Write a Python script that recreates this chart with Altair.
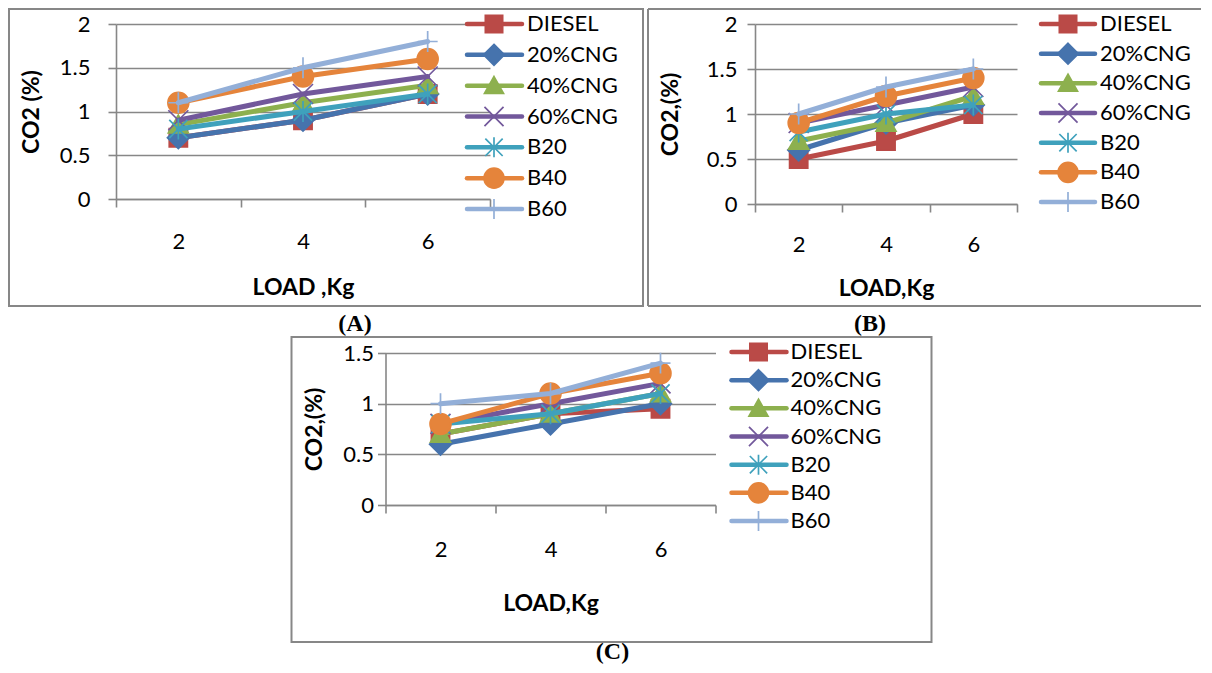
import altair as alt
import pandas as pd

LOADS = ["2", "4", "6"]
SERIES = ["DIESEL", "20%CNG", "40%CNG", "60%CNG", "B20", "B40", "B60"]
COLORS = ["#BA4A47", "#4673AD", "#8DB04E", "#72589B", "#3FA1BC", "#E5843B", "#93AFD8"]

# CO2 (%) per series at loads 2, 4, 6 kg
PANEL_A = {
    "DIESEL": [0.7, 0.9, 1.2],
    "20%CNG": [0.7, 0.9, 1.2],
    "40%CNG": [0.85, 1.1, 1.3],
    "60%CNG": [0.9, 1.2, 1.4],
    "B20": [0.8, 1.0, 1.2],
    "B40": [1.1, 1.4, 1.6],
    "B60": [1.1, 1.5, 1.8],
}
PANEL_B = {
    "DIESEL": [0.5, 0.7, 1.0],
    "20%CNG": [0.6, 0.9, 1.1],
    "40%CNG": [0.7, 0.9, 1.2],
    "60%CNG": [0.9, 1.1, 1.3],
    "B20": [0.8, 1.0, 1.1],
    "B40": [0.9, 1.2, 1.4],
    "B60": [1.0, 1.3, 1.5],
}
PANEL_C = {
    "DIESEL": [0.7, 0.9, 0.95],
    "20%CNG": [0.6, 0.8, 1.0],
    "40%CNG": [0.7, 0.9, 1.1],
    "60%CNG": [0.8, 1.0, 1.2],
    "B20": [0.8, 0.9, 1.1],
    "B40": [0.8, 1.1, 1.3],
    "B60": [1.0, 1.1, 1.4],
}

SHAPES = [
    "M-1,-1H1V1H-1Z",                                   # square
    "M0,-1.2L1.2,0L0,1.2L-1.2,0Z",                      # diamond
    "M0,-1.05L1.1,0.9H-1.1Z",                           # triangle
    "M-1.1,-1.1L1.1,1.1M1.1,-1.1L-1.1,1.1",             # x
    "M-1,-1L1,1M1,-1L-1,1M0,-1.15V1.15",                # star
    "M1.15,0A1.15,1.15,0,1,1,-1.15,0A1.15,1.15,0,1,1,1.15,0Z",  # circle
    "M-1.1,0H1.1M0,-1.15V1.15",                         # plus
]

GRAY = "#878787"
FONT = "Lato"

color_scale = alt.Scale(domain=SERIES, range=COLORS)
shape_scale = alt.Scale(domain=SERIES, range=SHAPES)
one = pd.DataFrame({"k": [0]})


def panel(values, w, h, ymax, yvals, xtitle, ytitle, xtitle_y, ytitle_x,
          xlab_pad, ylab_pad, frame, leg, caption, cap_pos, open_right=False):
    rows = []
    for s in SERIES:
        for l, v in zip(LOADS, values[s]):
            rows.append({"load": l, "co2": v, "series": s})
    df = pd.DataFrame(rows)

    x = alt.X(
        "load:O", sort=LOADS, bandPosition=0.5,
        scale=alt.Scale(type="band", domain=LOADS, paddingInner=0, paddingOuter=0),
        axis=alt.Axis(
            title=xtitle, titleFont=FONT, titleFontSize=23, titleFontWeight="bold",
            titleColor="black", titleY=xtitle_y, titleBaseline="middle",
            labelFont=FONT, labelFontSize=22, labelColor="black", labelAngle=0,
            labelPadding=xlab_pad, labelBaseline="middle",
            tickBand="extent", tickSize=8, tickColor=GRAY, tickWidth=1.6,
            domainColor=GRAY, domainWidth=1.6, grid=False,
        ),
    )
    y = alt.Y(
        "co2:Q",
        scale=alt.Scale(domain=[0, ymax], nice=False, zero=True),
        axis=alt.Axis(
            title=ytitle, titleFont=FONT, titleFontSize=23, titleFontWeight="bold",
            titleColor="black", titleX=ytitle_x, titleBaseline="middle",
            values=yvals, format="~g",
            labelFont=FONT, labelFontSize=22, labelColor="black",
            labelPadding=ylab_pad,
            tickSize=8, tickColor=GRAY, tickWidth=1.6,
            domainColor=GRAY, domainWidth=1.6,
            grid=True, gridColor=GRAY, gridWidth=1.6,
        ),
    )
    col = alt.Color("series:N", scale=color_scale, legend=None)
    stk = alt.Stroke("series:N", scale=color_scale, legend=None)
    shp = alt.Shape("series:N", scale=shape_scale, legend=None)

    base = alt.Chart(df)
    layers = []
    for s in SERIES:
        sub = base.transform_filter(alt.FieldEqualPredicate(field="series", equal=s))
        layers.append(
            sub.mark_line(strokeWidth=5, strokeJoin="round", strokeCap="round")
            .encode(x=x, y=y, color=col)
        )
        layers.append(
            sub.mark_point(filled=True, strokeWidth=1.7, size=330, opacity=1)
            .encode(x=x, y=y, color=col, stroke=stk, shape=shp)
        )
    main = alt.layer(*layers)

    leg_df = pd.DataFrame({"series": SERIES})
    lx0, lx1, lxm, lxt, ly0, ly1 = leg
    ly = alt.Y("series:N", sort=SERIES,
               scale=alt.Scale(type="point", domain=SERIES, range=[ly0, ly1], padding=0),
               axis=None)
    lb = alt.Chart(leg_df)
    legend = alt.layer(
        lb.mark_rule(strokeWidth=4.5, strokeCap="round").encode(
            x=alt.value(lx0), x2=alt.value(lx1), y=ly, color=col),
        lb.mark_point(filled=True, strokeWidth=1.7, size=300, opacity=1).encode(
            x=alt.value(lxm), y=ly, color=col, stroke=stk, shape=shp),
        lb.mark_text(align="left", baseline="middle", font=FONT, fontSize=22,
                     color="black").encode(
            x=alt.value(lxt), y=ly, text="series:N"),
    )

    fx0, fx1, fy0, fy1 = frame
    fb = alt.Chart(one)
    if open_right:
        # right edge of this frame lies beyond the page: draw the other three sides
        box = alt.layer(
            fb.mark_rule(stroke=GRAY, strokeWidth=2).encode(
                x=alt.value(fx0), x2=alt.value(fx1), y=alt.value(fy0)),
            fb.mark_rule(stroke=GRAY, strokeWidth=2).encode(
                x=alt.value(fx0), x2=alt.value(fx1), y=alt.value(fy1)),
            fb.mark_rule(stroke=GRAY, strokeWidth=2).encode(
                x=alt.value(fx0), y=alt.value(fy0), y2=alt.value(fy1)),
        )
    else:
        box = fb.mark_rect(filled=False, stroke=GRAY, strokeWidth=2).encode(
            x=alt.value(fx0), x2=alt.value(fx1), y=alt.value(fy0), y2=alt.value(fy1))

    cap = alt.Chart(one).mark_text(
        font="Liberation Serif", fontWeight="bold", fontSize=24,
        align="center", baseline="middle", color="black",
    ).encode(x=alt.value(cap_pos[0]), y=alt.value(cap_pos[1]), text=alt.value(caption))

    return (
        alt.layer(box, main, legend, cap)
        .resolve_scale(y="independent")
        .properties(width=w, height=h)
    )


pA = panel(PANEL_A, 374, 175, 2, [0, 0.5, 1, 1.5, 2], "LOAD ,Kg", "CO2 (%)",
           88, -85, 34, 18, (-107, 527, -15, 282),
           (351, 406, 378, 411, 0, 185), "(A)", (239, 300))
pB = panel(PANEL_B, 262, 180, 2, [0, 0.5, 1, 1.5, 2], "LOAD,Kg", "CO2,(%)",
           84, -85, 32, 10, (-107, 446, -15, 282),
           (286, 340, 313, 345, 0, 178), "(B)", (115, 300), open_right=True)
pC = panel(PANEL_C, 330, 152, 1.5, [0, 0.5, 1, 1.5], "LOAD,Kg", "CO2,(%)",
           98, -71, 36, 4, (-94, 546, -16, 289),
           (346, 401, 373, 405, -1, 168), "(C)", (227, 299))

row1 = alt.hconcat(pA, pB, spacing=3)
chart = (
    alt.vconcat(row1, pC, spacing=0, center=True)
    .properties(padding=0, background="white")
    .configure_view(strokeWidth=0)
)

chart.save("out.html", embed_options={"renderer": "svg", "actions": False})
